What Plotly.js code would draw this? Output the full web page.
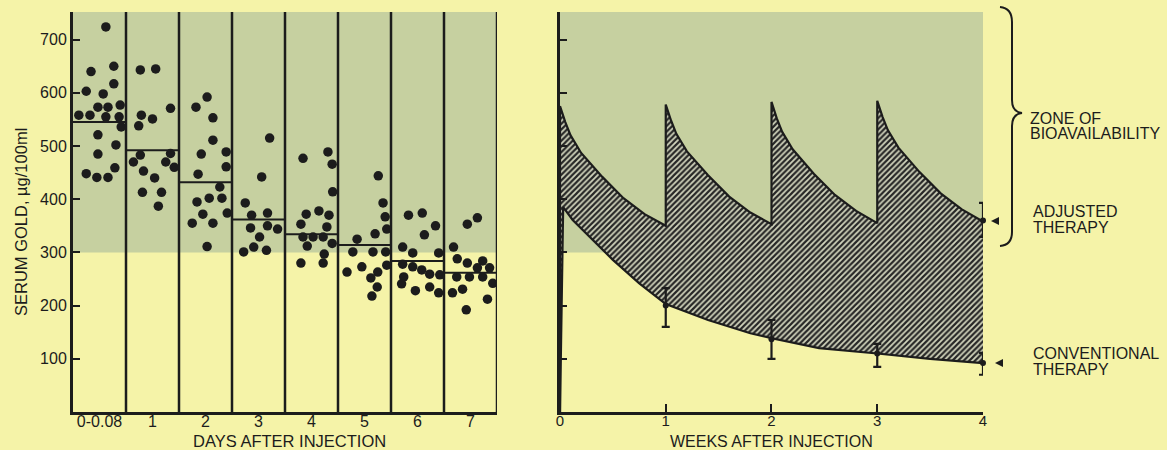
<!DOCTYPE html>
<html>
<head>
<meta charset="utf-8">
<script src="https://cdn.plot.ly/plotly-3.0.1.min.js"></script>
<style>html,body{margin:0;padding:0;background:#f5f3a8;}#chart{width:1167px;height:450px;}</style>
</head>
<body>
<div id="chart"></div>
<script>
// ---------- DATA ----------
var dayLabels = ["0-0.08", "1", "2", "3", "4", "5", "6", "7"];
// serum gold values (µg/100ml) per day column, with horizontal scatter jitter as drawn
var day0Vals = [724,640,650,617,603,598,573,573,577,558,558,555,555,536,521,502,485,459,448,441,441];
var day0Jit  = [0.12,-0.16,0.27,0.27,-0.25,0.07,-0.03,0.16,0.39,-0.39,-0.18,0.12,0.37,0.41,-0.03,0.31,-0.03,0.29,-0.25,-0.05,0.16];
var day1Vals = [643,645,571,558,551,538,483,470,486,470,460,453,440,413,413,387];
var day1Jit  = [-0.23,0.06,0.34,-0.21,0,-0.26,-0.23,-0.36,0.34,0.25,0.41,-0.17,0.04,0.17,-0.19,0.11];
var day2Vals = [592,573,553,511,485,489,461,447,423,402,402,395,372,374,355,355,311];
var day2Jit  = [0.03,-0.18,0.14,0.14,-0.08,0.39,0.39,-0.14,0.27,0.07,0.31,-0.16,-0.05,0.41,0.14,-0.25,0.03];
var day3Vals = [515,442,393,370,374,346,350,344,329,310,301,304];
var day3Jit  = [0.21,0.06,-0.25,-0.13,0.17,-0.15,0.17,0.36,0.02,-0.09,-0.28,0.15];
var day4Vals = [477,489,466,414,372,378,370,353,348,329,329,329,312,317,297,280,280];
var day4Jit  = [-0.16,0.31,0.39,0.4,-0.1,0.14,0.33,-0.2,0.29,-0.16,0.03,0.22,-0.08,0.39,0.24,-0.2,0.22];
var day5Vals = [444,393,367,344,335,325,301,301,301,276,273,263,263,252,235,218];
var day5Jit  = [0.26,0.35,0.39,0.42,0.2,-0.14,-0.22,0.16,0.4,0.42,-0.05,-0.33,0.25,0.12,0.24,0.14];
var day6Vals = [370,374,350,333,310,299,299,278,273,267,259,258,254,241,228,235,224];
var day6Jit  = [-0.17,0.09,0.34,0.13,-0.28,-0.09,0.4,-0.28,-0.09,0.08,0.23,0.42,-0.26,-0.3,-0.04,0.23,0.4];
var day7Vals = [353,365,310,288,280,284,271,271,254,254,254,242,224,231,212,192];
var day7Jit  = [-0.06,0.13,-0.32,-0.25,-0.06,0.23,0.13,0.36,-0.26,-0.02,0.23,0.42,-0.34,-0.15,0.32,-0.08];
var dayMeans = [545, 492, 432, 362, 334, 314, 284, 262];

var zoneLow = 300;          // lower edge of zone of bioavailability
var yTop = 752;

var weekTicks = [0, 1, 2, 3, 4];
// adjusted therapy (weekly injections) curve
var adjT = [0,0,0.05,0.1,0.2,0.4,0.6,0.8,1.0, 1.0,1.05,1.1,1.2,1.4,1.6,1.8,2.0, 2.0,2.05,2.1,2.2,2.4,2.6,2.8,3.0, 3.0,3.05,3.1,3.2,3.4,3.6,3.8,4.0];
var adjV = [0,575,545,520,487,442,402,372,350, 578,548,523,490,445,405,375,353, 583,552,527,494,448,408,378,355, 585,555,530,497,451,411,381,358];
// conventional therapy curve
var convT = [0,0.03,0.12,0.25,0.5,0.75,1.0,1.4,1.8,2.0,2.45,3.0,3.5,4.0];
var convV = [0,385,361,336,286,242,203,173,148,139,120,110,100,92];
// measured points with error bars
var convPtT = [1,2,3,4];
var convPtV = [200,137,110,92];
var convErrUp = [33,36,18,19];
var convErrDn = [40,37,25,22];
var adjPtT = [4];
var adjPtV = [360];
var adjErrUp = [33];
var adjErrDn = [31];

// ---------- BUILD ----------
var allVals = [day0Vals,day1Vals,day2Vals,day3Vals,day4Vals,day5Vals,day6Vals,day7Vals];
var allJit  = [day0Jit,day1Jit,day2Jit,day3Jit,day4Jit,day5Jit,day6Jit,day7Jit];
var dotX = [], dotY = [];
allVals.forEach(function(vals, c){
  vals.forEach(function(v, i){ dotX.push(c + allJit[c][i]); dotY.push(v); });
});
var meanX = [], meanY = [];
dayMeans.forEach(function(m, c){ meanX.push(c-0.5, c+0.5, null); meanY.push(m, m, null); });

var ink = '#1c1c1c';
var fontFam = 'Liberation Sans, Arial, Helvetica, sans-serif';

var traces = [
  {x: dotX, y: dotY, mode: 'markers', type: 'scatter', xaxis: 'x', yaxis: 'y',
   marker: {size: 9.5, color: ink}, hoverinfo: 'y', showlegend: false},
  {x: meanX, y: meanY, mode: 'lines', type: 'scatter', xaxis: 'x', yaxis: 'y',
   line: {color: ink, width: 2}, hoverinfo: 'skip', showlegend: false},
  {x: convT, y: convV, mode: 'lines', type: 'scatter', xaxis: 'x2', yaxis: 'y2',
   line: {color: ink, width: 2.2}, showlegend: false},
  {x: adjT, y: adjV, mode: 'lines', type: 'scatter', xaxis: 'x2', yaxis: 'y2',
   line: {color: ink, width: 2.2}, fill: 'tonexty', fillcolor: 'rgba(0,0,0,0)',
   fillpattern: {shape: '/', bgcolor: '#d2d5bd', fgcolor: '#262626', size: 4, solidity: 0.55},
   showlegend: false},
  {x: convPtT, y: convPtV, mode: 'markers', type: 'scatter', xaxis: 'x2', yaxis: 'y2', cliponaxis: false,
   marker: {size: 6, color: ink},
   error_y: {type: 'data', symmetric: false, array: convErrUp, arrayminus: convErrDn, color: ink, thickness: 2.2, width: 4},
   showlegend: false},
  {x: adjPtT, y: adjPtV, mode: 'markers', type: 'scatter', xaxis: 'x2', yaxis: 'y2', cliponaxis: false,
   marker: {size: 6, color: ink},
   error_y: {type: 'data', symmetric: false, array: adjErrUp, arrayminus: adjErrDn, color: ink, thickness: 2.2, width: 4},
   showlegend: false}
];

// pixel -> paper helpers for decorations outside the axes
var ML = 73, MT = 12, PW = 910, PH = 400;
function P(px, py){ return ((px-ML)/PW).toFixed(5) + ',' + ((MT+PH-py)/PH).toFixed(5); }

var shapes = [
  {type: 'rect', xref: 'x', yref: 'y', x0: -0.5, x1: 7.5, y0: zoneLow, y1: yTop, fillcolor: '#c6d0a0', line: {width: 0}, layer: 'below'},
  {type: 'rect', xref: 'x2', yref: 'y2', x0: 0, x1: 4, y0: zoneLow, y1: yTop, fillcolor: '#c6d0a0', line: {width: 0}, layer: 'below'}
];
for (var k = 0; k < dayLabels.length; k++) {
  shapes.push({type: 'line', xref: 'x', yref: 'y', x0: k+0.5, x1: k+0.5, y0: 0, y1: yTop, line: {color: ink, width: 2.5}, layer: 'below'});
}
// brace
shapes.push({type: 'path', xref: 'paper', yref: 'paper', layer: 'above',
  path: 'M' + P(1000,7) + ' Q' + P(1012,8) + ' ' + P(1012,22) + ' L' + P(1012,100) +
        ' Q' + P(1012,112) + ' ' + P(1022,113) + ' Q' + P(1012,114) + ' ' + P(1012,126) +
        ' L' + P(1012,232) + ' Q' + P(1012,245) + ' ' + P(1000,246),
  line: {color: ink, width: 2}});
// pointer triangles
shapes.push({type: 'path', xref: 'paper', yref: 'paper', path: 'M' + P(991,221) + ' L' + P(999,217) + ' L' + P(999,225) + ' Z', fillcolor: ink, line: {width: 0}});
shapes.push({type: 'path', xref: 'paper', yref: 'paper', path: 'M' + P(995,363) + ' L' + P(1003,359) + ' L' + P(1003,367) + ' Z', fillcolor: ink, line: {width: 0}});

function ann(text, px, py, opts){
  var a = {text: text, xref: 'paper', yref: 'paper', showarrow: false,
    x: (px-ML)/PW, y: (MT+PH-py)/PH, xanchor: 'left', yanchor: 'middle',
    font: {family: fontFam, size: 16, color: ink}};
  for (var key in (opts||{})) a[key] = opts[key];
  return a;
}
var annotations = [
  ann('DAYS AFTER INJECTION', 289, 441, {xanchor: 'center', font: {family: fontFam, size: 16.5, color: ink}}),
  ann('WEEKS AFTER INJECTION', 771, 441, {xanchor: 'center', font: {family: fontFam, size: 16, color: ink}}),
  ann('SERUM GOLD, \u00b5g/100ml', 21, 222, {xanchor: 'center', textangle: -90, font: {family: fontFam, size: 16.5, color: ink}}),
  ann('ZONE OF', 1028, 118),
  ann('BIOAVAILABILITY', 1028, 133),
  ann('ADJUSTED', 1031, 211),
  ann('THERAPY', 1031, 227),
  ann('CONVENTIONAL', 1031, 353),
  ann('THERAPY', 1031, 369)
];

var layout = {
  width: 1167, height: 450,
  paper_bgcolor: '#f5f3a8', plot_bgcolor: 'rgba(0,0,0,0)',
  margin: {l: ML, r: 1167-ML-PW, t: MT, b: 450-MT-PH},
  font: {family: fontFam, size: 15, color: ink},
  showlegend: false,
  xaxis: {domain: [0, 0.46593], range: [-0.5, 7.5], tickvals: [0,1,2,3,4,5,6,7], ticktext: dayLabels,
    ticks: '', showgrid: false, zeroline: false, showline: true, linecolor: ink, linewidth: 3,
    ticklabelstandoff: -7,
    tickfont: {size: 16, family: fontFam, color: ink}, fixedrange: true},
  yaxis: {domain: [0, 1], range: [0, yTop], tickvals: [100,200,300,400,500,600,700],
    ticks: 'inside', ticklen: 7, tickwidth: 2, tickcolor: ink, showgrid: false, zeroline: false,
    showline: true, linecolor: ink, linewidth: 3, tickfont: {size: 16, family: fontFam, color: ink}},
  xaxis2: {domain: [0.53516, 1], anchor: 'y2', range: [0, 4], tickvals: weekTicks, ticktext: ['0','1','2','3','4'],
    ticks: 'inside', ticklen: 8, tickwidth: 2, tickcolor: ink, showgrid: false, zeroline: false,
    ticklabelstandoff: -7,
    showline: true, linecolor: ink, linewidth: 2.5, tickfont: {size: 15, family: fontFam, color: ink}},
  yaxis2: {domain: [0, 1], anchor: 'x2', range: [0, yTop], tickvals: [100,200,300,400,500,600,700],
    ticks: 'inside', ticklen: 7, tickwidth: 2, tickcolor: ink, showticklabels: false, showgrid: false,
    zeroline: false, showline: true, linecolor: ink, linewidth: 3},
  shapes: shapes,
  annotations: annotations
};

Plotly.newPlot('chart', traces, layout, {displayModeBar: false, staticPlot: true});
</script>
</body>
</html>
